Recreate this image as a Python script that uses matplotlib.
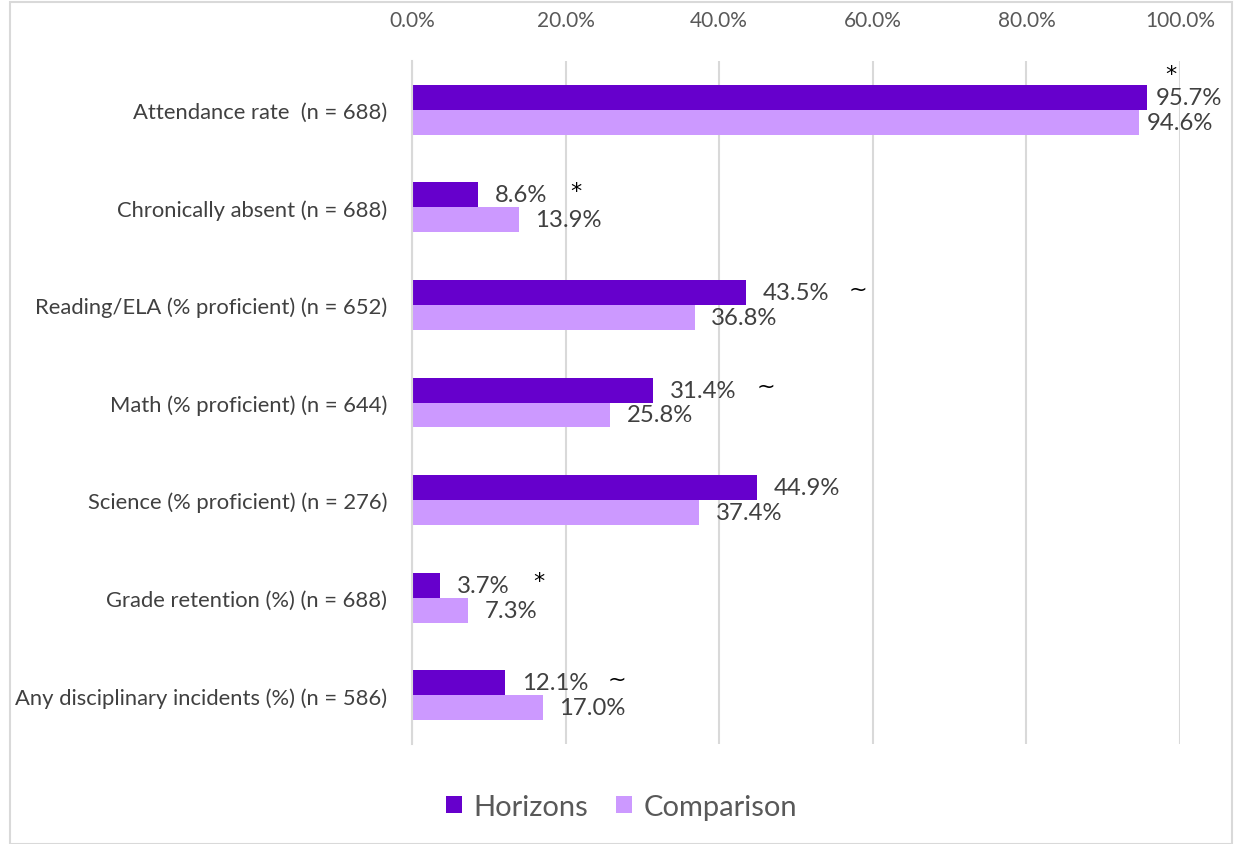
import matplotlib
matplotlib.use("Agg")
import matplotlib.pyplot as plt
from matplotlib.patches import Rectangle
from matplotlib.ticker import FuncFormatter
import numpy as np

plt.rcParams['font.family'] = ['Lato', 'DejaVu Sans']

categories = ["Attendance rate  (n = 688)", "Chronically absent (n = 688)",
              "Reading/ELA (% proficient) (n = 652)", "Math (% proficient) (n = 644)",
              "Science (% proficient) (n = 276)", "Grade retention (%) (n = 688)",
              "Any disciplinary incidents (%) (n = 586)"]
horizons = [95.7, 8.6, 43.5, 31.4, 44.9, 3.7, 12.1]
comparison = [94.6, 13.9, 36.8, 25.8, 37.4, 7.3, 17.0]
markers = ["*", "*", "~", "~", "", "*", "~"]
ticks = [0, 20, 40, 60, 80, 100]

c_h = "#6600CC"
c_c = "#CC99FF"
txt = "#404040"

fig = plt.figure(figsize=(12.35, 8.45), dpi=100)
ax = fig.add_axes([412/1235, 1-745/845, 768/1235, 683/845])

n = len(categories)
y = np.arange(n)
bh = 0.256
ax.barh(y - bh/2, horizons, height=bh, color=c_h, label="Horizons", zorder=3)
ax.barh(y + bh/2, comparison, height=bh, color=c_c, label="Comparison", zorder=3)

for i in range(n):
    gap = 6 if i == 0 else 12
    lab = ax.annotate(f"{horizons[i]:.1f}%", (horizons[i], y[i] - bh/2), xytext=(gap, 0),
                      textcoords="offset points", va="center", ha="left", fontsize=17.2,
                      color=txt, zorder=4)
    ax.annotate(f"{comparison[i]:.1f}%", (comparison[i], y[i] + bh/2), xytext=(gap, 0),
                textcoords="offset points", va="center", ha="left", fontsize=17.2,
                color=txt, zorder=4)
    m = markers[i]
    if not m:
        continue
    if i == 0:
        ax.annotate(m, (horizons[i], y[i] - bh/2), xytext=(17, 17), textcoords="offset points",
                    va="center", ha="center", fontsize=16, color="black",
                    family="DejaVu Sans", zorder=4)
    else:
        ax.annotate(m, xy=(1, 0.5), xycoords=lab, xytext=(21, 3), textcoords="offset points",
                    va="center", ha="center", fontsize=16, color="black",
                    family="DejaVu Sans", zorder=4)

ax.set_xlim(0, 100)
ax.set_ylim(n - 0.5, -0.5)
ax.set_yticks(y)
ax.set_yticklabels(categories, fontsize=15.8, color=txt)
ax.set_xticks(ticks)
ax.xaxis.set_major_formatter(FuncFormatter(lambda v, p: f"{v:.1f}%"))
ax.xaxis.tick_top()
ax.tick_params(axis='x', length=0, pad=22, labelsize=15, labelcolor="#595959")
ax.tick_params(axis='y', length=0, pad=18)
ax.grid(axis='x', color="#D9D9D9", linewidth=1.5, zorder=0)
for s in ["top", "right", "bottom"]:
    ax.spines[s].set_visible(False)
ax.spines["left"].set_color("#D9D9D9")
ax.spines["left"].set_linewidth(1.5)
ax.spines["left"].set_zorder(5)

leg = fig.legend(loc="center", bbox_to_anchor=(0.5 + 4/1235, 1-808/845), ncol=2, frameon=False,
                 fontsize=21, handlelength=0.55, handleheight=0.55, columnspacing=0.95,
                 handletextpad=0.4)
for t in leg.get_texts():
    t.set_color("#595959")

fig.patches.append(Rectangle((10/1235, 0), 1222/1235, 1-3/845, transform=fig.transFigure,
                             fill=False, edgecolor="#D9D9D9", linewidth=1.5))

fig.savefig("out.png", dpi=100)
